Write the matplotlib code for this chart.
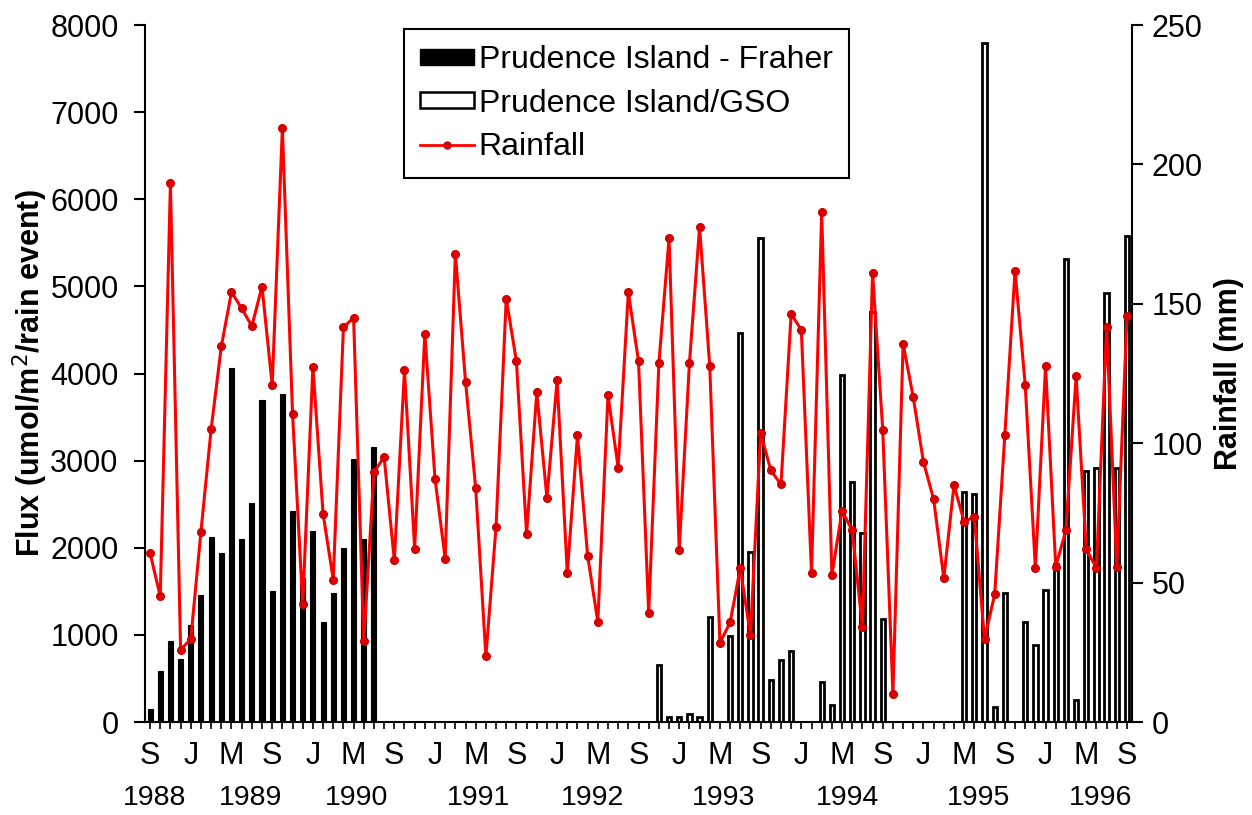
import numpy as np
import matplotlib.pyplot as plt
from matplotlib.patches import Patch
from matplotlib.lines import Line2D
from matplotlib.transforms import blended_transform_factory

plt.rcParams['font.family'] = ['Liberation Sans', 'DejaVu Sans']

# monthly series, index 0 = Sep 1988 ... index 96 = Sep 1996
n_months = 97
months = np.arange(n_months)

# Prudence Island - Fraher (starts Sep 1988)
fraher_start = 0
fraher = [150, 590, 925, 727, 1117, 1455, 2119, 1943, 4062, 2104, 2519, 3699,
          1506, 3766, 2426, 1652, 2197, 1153, 1481, 2000, 3023, 2104, 3158]

# Prudence Island/GSO (starts Nov 1992), nan = no sample
gso_start = 50
nan = np.nan
gso = [649, 62, 62, 94, 52, 1205, nan, 987, 4468, 1948, 5553, 483, 712, 816,
       nan, nan, 457, 197, 3979, 2753, 2166, 4701, 1184,
       nan, nan, nan, nan, nan, nan, nan,
       2639, 2613, 7792, 171, 1481, nan, 1153, 883, 1517, 1818, 5314, 249,
       2883, 2919, 4919, 2919, 5574]

# monthly rainfall (mm)
rainfall = [60.6, 45.1, 193.2, 26.0, 29.7, 68.3, 105.0, 134.7, 154.2, 148.4, 142.0, 156.2,
            120.8, 213.0, 110.6, 42.2, 127.4, 74.7, 51.1, 141.6, 145.0, 28.9, 89.6, 95.1,
            58.0, 126.1, 62.2, 139.3, 87.3, 58.6, 168.0, 122.1, 83.9, 23.5, 70.1, 151.9,
            129.4, 67.4, 118.2, 80.5, 122.6, 53.4, 102.8, 59.6, 36.0, 117.2, 91.2, 154.1,
            129.4, 39.0, 128.6, 173.5, 61.7, 128.6, 177.6, 127.6, 28.4, 35.7, 55.2, 31.2,
            103.7, 90.3, 85.2, 146.4, 140.6, 53.4, 182.8, 52.6, 75.8, 68.7, 34.1, 161.2,
            104.7, 10.1, 135.7, 116.4, 93.3, 79.9, 51.6, 84.9, 71.9, 73.5, 29.7, 45.8,
            103.1, 161.9, 120.9, 55.2, 127.6, 55.7, 68.8, 124.0, 62.0, 55.2, 141.7, 55.7,
            145.5]

month_letters = ['S', 'J', 'M']
years = ['1988', '1989', '1990', '1991', '1992', '1993', '1994', '1995', '1996']
year_pos = [0.4, 9.9, 20.3, 32.3, 43.5, 56.4, 68.5, 81.4, 93.4]

fs = 22

fig = plt.figure(figsize=(12.52, 8.15), dpi=100)
ax = fig.add_axes([0.1158, 0.1141, 0.7884, 0.8552])

x_fr = months[fraher_start:fraher_start + len(fraher)]
x_gso = months[gso_start:gso_start + len(gso)]
ax.bar(x_fr, fraher, width=0.5, color='black', edgecolor='black', linewidth=0.8)
ax.bar(x_gso, gso, width=0.42, color='white', edgecolor='black', linewidth=2.0)

ax.set_xlim(-0.5, n_months - 0.5)
ax.set_ylim(0, 8000)
ax.set_yticks(np.arange(0, 8001, 1000))
ax.set_xticks(months)
ax.set_xticklabels([month_letters[(m // 4) % 3] if m % 4 == 0 else '' for m in months])
ax.tick_params(axis='x', direction='out', length=5, width=1.2, labelsize=fs, pad=9)
ax.tick_params(axis='y', direction='out', length=8, width=1.5, labelsize=fs, pad=11)
ax.set_ylabel('Flux (umol/m$^2$/rain event)', fontsize=22, fontweight='bold', labelpad=0)
for s in ['top', 'right']:
    ax.spines[s].set_visible(False)
for s in ['left', 'bottom']:
    ax.spines[s].set_linewidth(1.5)

trans = blended_transform_factory(ax.transData, ax.transAxes)
for yr, xp in zip(years, year_pos):
    ax.text(xp, -0.109, yr, transform=trans, ha='center', va='center', fontsize=20.5)

ax2 = ax.twinx()
ax2.plot(months, rainfall, color='#ff0000', linewidth=2.2, marker='o', markersize=5.5,
         markerfacecolor='#dd0000', markeredgecolor='#cc0000')
ax2.set_ylim(0, 250)
ax2.set_yticks(np.arange(0, 251, 50))
ax2.tick_params(axis='y', direction='out', length=8, width=1.5, labelsize=fs, pad=6)
ax2.set_ylabel('Rainfall (mm)', fontsize=22, fontweight='bold', labelpad=8)
ax2.spines['top'].set_visible(False)
ax2.spines['left'].set_visible(False)
ax2.spines['bottom'].set_visible(False)
ax2.spines['right'].set_linewidth(1.5)

handles = [Patch(facecolor='black', edgecolor='black'),
           Patch(facecolor='white', edgecolor='black', linewidth=1.8),
           Line2D([], [], color='#ff0000', linewidth=2, marker='o', markersize=5,
                  markerfacecolor='#dd0000', markeredgecolor='#cc0000')]
labels = ['Prudence Island - Fraher', 'Prudence Island/GSO', 'Rainfall']
leg = ax2.legend(handles, labels, loc='upper left', bbox_to_anchor=(0.262, 0.994),
                 prop={'size': 23}, frameon=True, fancybox=False, framealpha=1,
                 edgecolor='black', borderaxespad=0, handlelength=1.7, handleheight=0.4,
                 handletextpad=0.15, labelspacing=0.42, borderpad=0.5)
leg.get_frame().set_linewidth(1.5)

fig.savefig('out.png', dpi=100)
